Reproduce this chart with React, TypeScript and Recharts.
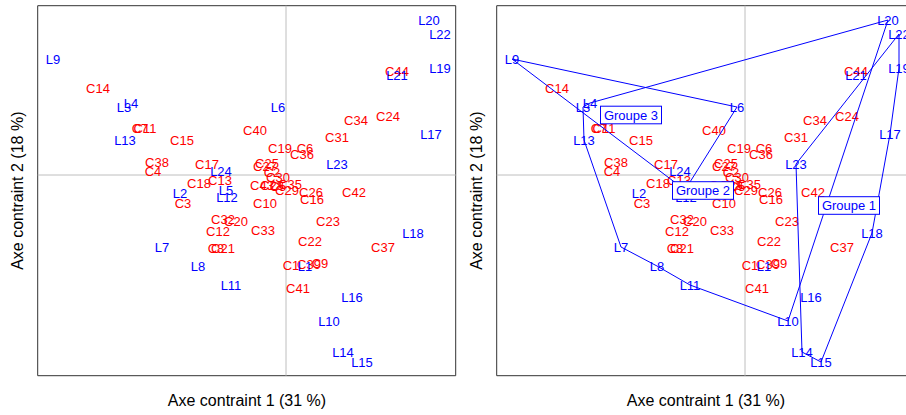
import React from "react";
import { ScatterChart, Scatter, XAxis, YAxis, ReferenceLine, ReferenceArea } from "recharts";

// Site scores (L) on constrained axes 1 and 2
const siteNames = ["L1","L2","L3","L4","L5","L6","L7","L8","L9","L10","L11","L12","L13","L14","L15","L16","L17","L18","L19","L20","L21","L22","L23","L24"];
const siteAxis1 = [0.19,-1.06,-1.62,-1.55,-0.60,-0.08,-1.24,-0.88,-2.33,0.43,-0.55,-0.59,-1.61,0.57,0.76,0.66,1.45,1.27,1.54,1.43,1.11,1.54,0.51,-0.65];
const siteAxis2 = [-0.91,-0.18,0.68,0.72,-0.15,0.68,-0.72,-0.91,1.16,-1.46,-1.10,-0.22,0.35,-1.77,-1.87,-1.22,0.41,-0.58,1.07,1.55,1.00,1.41,0.11,0.04];

// Species scores (C)
const speciesNames = ["C1","C2","C3","C4","C5","C6","C7","C8","C9","C10","C11","C12","C13","C14","C15","C16","C17","C18","C19","C20","C21","C22","C23","C24","C25","C26","C27","C28","C29","C30","C31","C32","C33","C34","C35","C36","C37","C38","C39","C40","C41","C42","C43","C44"];
const speciesAxis1 = [0.05,-0.14,-1.03,-1.33,-0.08,0.19,-1.46,-0.70,0.34,-0.21,-1.41,-0.68,-0.66,-1.88,-1.04,0.26,-0.79,-0.87,-0.06,-0.50,-0.63,0.24,0.42,1.02,-0.19,0.25,-0.21,-0.14,0.01,-0.08,0.51,-0.63,-0.23,0.70,0.04,0.16,0.97,-1.29,0.23,-0.31,0.12,0.68,-0.24,1.11];
const speciesAxis2 = [-0.90,0.03,-0.28,0.04,-0.11,0.27,0.47,-0.73,-0.88,-0.28,0.47,-0.56,-0.05,0.87,0.35,-0.24,0.11,-0.08,0.27,-0.46,-0.73,-0.66,-0.46,0.59,0.12,-0.17,0.09,-0.10,-0.15,-0.02,0.38,-0.44,-0.55,0.55,-0.09,0.21,-0.72,0.13,-0.89,0.45,-1.13,-0.17,-0.10,1.04];

// Groups: hull vertices (site names, in drawing order) and label positions
const group1Hull = ["L23","L22","L19","L17","L18","L15","L14","L23"];
const group2Hull = ["L3","L4","L20","L10","L11","L8","L7","L13","L3"];
const group3Hull = ["L9","L6","L5","L9"];
const groupNames = ["Groupe 1","Groupe 2","Groupe 3"];
const groupAxis1 = [1.04,-0.42,-1.14];
const groupAxis2 = [-0.305,-0.155,0.60];

const XMIN = -2.483, XMAX = 1.697, YMIN = -2.007, YMAX = 1.693;

const sites = siteNames.map((name, i) => ({ name, x: siteAxis1[i], y: siteAxis2[i] }));
const species = speciesNames.map((name, i) => ({ name, x: speciesAxis1[i], y: speciesAxis2[i] }));
const hull = (names: string[]) => names.map((n) => sites.find((s) => s.name === n)!);
const groups = groupNames.map((name, i) => ({ name, x: groupAxis1[i], y: groupAxis2[i] }));

const FONT = "'Liberation Sans', Arial, Helvetica, sans-serif";

const labelShape = (color: string) => (p: any) => (
  <text x={p.cx} y={p.cy} dy={4.6} textAnchor="middle" fill={color} fontSize={13} fontFamily={FONT}>
    {p.payload.name}
  </text>
);

const groupShape = (p: any) => (
  <g>
    <rect x={p.cx - 30.5} y={p.cy - 8.8} width={61} height={17.6} fill="#FFFFFF" stroke="#0000FF" strokeWidth={1} />
    <text x={p.cx} y={p.cy} dy={4.6} textAnchor="middle" fill="#0000FF" fontSize={13} fontFamily={FONT}>
      {p.payload.name}
    </text>
  </g>
);

const empty = () => <g />;

function Panel({ withGroups }: { withGroups: boolean }) {
  return (
    <ScatterChart width={460} height={415} margin={{ top: 5.7, right: 4.3, bottom: 39.3, left: 37.7 }}>
      <XAxis type="number" dataKey="x" domain={[XMIN, XMAX]} allowDataOverflow hide />
      <YAxis type="number" dataKey="y" domain={[YMIN, YMAX]} allowDataOverflow hide />
      <ReferenceLine x={0} stroke="#BEBEBE" strokeWidth={1} />
      <ReferenceLine y={0} stroke="#BEBEBE" strokeWidth={1} />
      <Scatter data={species} shape={labelShape("#FF0000")} isAnimationActive={false} />
      <Scatter data={sites} shape={labelShape("#0000FF")} isAnimationActive={false} />
      {withGroups && (
        <Scatter data={hull(group1Hull)} line={{ stroke: "#0000FF", strokeWidth: 1 }} lineType="joint" shape={empty} isAnimationActive={false} />
      )}
      {withGroups && (
        <Scatter data={hull(group2Hull)} line={{ stroke: "#0000FF", strokeWidth: 1 }} lineType="joint" shape={empty} isAnimationActive={false} />
      )}
      {withGroups && (
        <Scatter data={hull(group3Hull)} line={{ stroke: "#0000FF", strokeWidth: 1 }} lineType="joint" shape={empty} isAnimationActive={false} />
      )}
      {withGroups && <Scatter data={groups} shape={groupShape} isAnimationActive={false} />}
      <ReferenceArea x1={XMIN} x2={XMAX} y1={YMIN} y2={YMAX} fill="none" fillOpacity={0} stroke="#333333" strokeWidth={1} ifOverflow="visible" />
    </ScatterChart>
  );
}

export default function App() {
  return (
    <div style={{ position: "absolute", left: 0, top: 0, width: 906, height: 415, overflow: "hidden", background: "#FFFFFF" }}>
      <div style={{ position: "absolute", left: 0, top: 0 }}>
        <Panel withGroups={false} />
      </div>
      <div style={{ position: "absolute", left: 459, top: 0 }}>
        <Panel withGroups={true} />
      </div>
      <svg width={906} height={415} style={{ position: "absolute", left: 0, top: 0, pointerEvents: "none" }}>
        <text x={247} y={405.5} textAnchor="middle" fontSize={16} fontFamily={FONT} fill="#000000">Axe contraint 1 (31 %)</text>
        <text x={706} y={405.5} textAnchor="middle" fontSize={16} fontFamily={FONT} fill="#000000">Axe contraint 1 (31 %)</text>
        <text transform="translate(23,190.7) rotate(-90)" textAnchor="middle" fontSize={16} fontFamily={FONT} fill="#000000">Axe contraint 2 (18 %)</text>
        <text transform="translate(482,190.7) rotate(-90)" textAnchor="middle" fontSize={16} fontFamily={FONT} fill="#000000">Axe contraint 2 (18 %)</text>
      </svg>
    </div>
  );
}
